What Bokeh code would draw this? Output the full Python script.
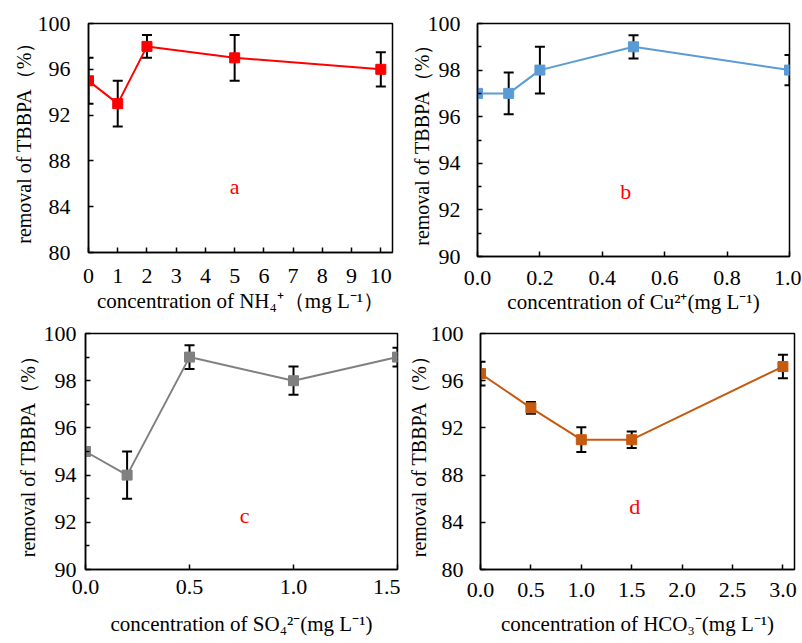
from bokeh.plotting import figure
from bokeh.layouts import column, row
from bokeh.models import ColumnDataSource, Whisker, TeeHead, FixedTicker, Range1d, PrintfTickFormatter
from bokeh.core.properties import value
from bokeh.embed import file_html
from bokeh.resources import INLINE

# ---- data ----
a_x = [0, 1, 2, 5, 10]
a_y = [95, 93, 98, 97, 96]
a_err = [2, 2, 1, 2, 1.5]

b_x = [0, 0.1, 0.2, 0.5, 1.0]
b_y = [97, 97, 98, 99, 98]
b_err = [0, 0.9, 1.0, 0.5, 0.65]

c_x = [0, 0.2, 0.5, 1.0, 1.5]
c_y = [95, 94, 99, 98, 99]
c_err = [0, 1.0, 0.5, 0.6, 0.4]

d_x = [0, 0.5, 1.0, 1.5, 3.0]
d_y = [96.6, 93.7, 91.0, 91.0, 97.2]
d_err = [1.0, 0.5, 1.05, 0.7, 1.0]

a_xticks = [0, 1, 2, 3, 4, 5, 6, 7, 8, 9, 10]
b_xticks = [0, 0.2, 0.4, 0.6, 0.8, 1.0]
c_xticks = [0, 0.5, 1.0, 1.5]
d_xticks = [0, 0.5, 1.0, 1.5, 2.0, 2.5, 3.0]
y_ticks_wide = [80, 84, 88, 92, 96, 100]
y_ticks_narrow = [90, 92, 94, 96, 98, 100]
y_minor_narrow = [91, 93, 95, 97, 99]

x_labels = [
    "concentration of NH\u2084\u207a\uff08mg L\u207b\u00b9\uff09",
    "concentration of Cu\u00b2\u207a(mg L\u207b\u00b9)",
    "concentration of SO\u2084\u00b2\u207b(mg L\u207b\u00b9)",
    "concentration of HCO\u2083\u207b(mg L\u207b\u00b9)",
]
y_label = "removal of TBBPA\uff08%\uff09"
letters = ["a", "b", "c", "d"]
letter_x = [5, 0.475, 0.765, 1.53]
letter_y = [85.8, 92.8, 92.3, 85.3]

colors = ["#FF0000", "#5B9BD5", "#808080", "#C55A11"]

FONT = "Liberation Serif"


def make_panel(x, y, err, color, xr, yr, xticks, yticks, yminor, xfmt, xlabel,
               letter, lx, ly, fw, fh, bl, bt, br, bb,
               xstand, xlstand, ystand, ylstand):
    p = figure(frame_width=fw, frame_height=fh,
               min_border_left=bl, min_border_top=bt,
               min_border_right=br, min_border_bottom=bb,
               x_range=Range1d(*xr), y_range=Range1d(*yr),
               output_backend="svg", toolbar_location=None)
    p.xgrid.visible = False
    p.ygrid.visible = False
    p.outline_line_color = "black"
    p.outline_line_width = 1.5
    p.background_fill_color = "white"
    p.border_fill_color = "white"

    p.xaxis.ticker = FixedTicker(ticks=xticks)
    p.yaxis.ticker = FixedTicker(ticks=yticks, minor_ticks=yminor)
    if xfmt:
        p.xaxis.formatter = PrintfTickFormatter(format=xfmt)
    for ax in p.axis:
        ax.axis_line_color = "black"
        ax.axis_line_width = 1.5
        ax.major_tick_in = 5
        ax.major_tick_out = 0
        ax.major_tick_line_color = "black"
        ax.major_tick_line_width = 1.5
        ax.minor_tick_in = 4
        ax.minor_tick_out = 0
        ax.minor_tick_line_color = "black"
        ax.minor_tick_line_width = 1.5
        ax.major_label_text_font = FONT
        ax.major_label_text_font_size = "22px"
        ax.major_label_text_color = "black"
        ax.axis_label_text_font = FONT
        ax.axis_label_text_font_style = "normal"
        ax.axis_label_text_color = "black"
    p.xaxis.axis_label_text_font_size = "21px"
    p.yaxis.axis_label_text_font_size = "20px"
    if not yminor:
        p.yaxis.minor_tick_line_color = None
    p.xaxis.minor_tick_line_color = None
    p.xaxis.major_label_standoff = xstand
    p.yaxis.major_label_standoff = ystand
    p.xaxis.axis_label_standoff = xlstand
    p.yaxis.axis_label_standoff = ylstand
    p.xaxis.axis_label = xlabel
    p.yaxis.axis_label = y_label

    src = ColumnDataSource(dict(
        x=x, y=y,
        upper=[v + e for v, e in zip(y, err)],
        lower=[v - e for v, e in zip(y, err)],
    ))
    w = Whisker(base="x", upper="upper", lower="lower", source=src,
                line_color="black", line_width=2,
                upper_head=TeeHead(size=10, line_width=2, line_color="black"),
                lower_head=TeeHead(size=10, line_width=2, line_color="black"))
    p.add_layout(w)
    p.line("x", "y", source=src, line_color=color, line_width=2)
    p.scatter("x", "y", source=src, marker="square", size=10,
              fill_color=color, line_color=color)
    p.text(x=[lx], y=[ly], text=[letter], text_color="#FF0000",
           text_font=value(FONT), text_font_size="22px",
           text_align="center", text_baseline="middle")
    return p


pa = make_panel(a_x, a_y, a_err, colors[0], (0, 10.4), (80, 100), a_xticks,
                y_ticks_wide, [], None, x_labels[0], letters[0], letter_x[0], letter_y[0],
                fw=304, fh=229, bl=88, bt=23, br=8, bb=68,
                xstand=16, xlstand=3, ystand=18, ylstand=0)
pb = make_panel(b_x, b_y, b_err, colors[1], (0, 1.0), (90, 100), b_xticks,
                y_ticks_narrow, y_minor_narrow, "%.1f", x_labels[1], letters[1], letter_x[1], letter_y[1],
                fw=312, fh=233, bl=77, bt=23, br=12, bb=64,
                xstand=14, xlstand=2, ystand=17, ylstand=-8)
pc = make_panel(c_x, c_y, c_err, colors[2], (0, 1.5), (90, 100), c_xticks,
                y_ticks_narrow, y_minor_narrow, "%.1f", x_labels[2], letters[2], letter_x[2], letter_y[2],
                fw=312, fh=236, bl=85, bt=9, br=3, bb=74,
                xstand=10, xlstand=15, ystand=9, ylstand=2)
pd_ = make_panel(d_x, d_y, d_err, colors[3], (0, 3.115), (80, 100), d_xticks,
                 y_ticks_wide, [], "%.1f", x_labels[3], letters[3], letter_x[3], letter_y[3],
                 fw=314, fh=236, bl=80, bt=13, br=7, bb=73,
                 xstand=13, xlstand=12, ystand=17, ylstand=-2)

layout = column(row(pa, pb), row(pc, pd_))

with open("out.html", "w") as f:
    f.write(file_html(layout, INLINE))
